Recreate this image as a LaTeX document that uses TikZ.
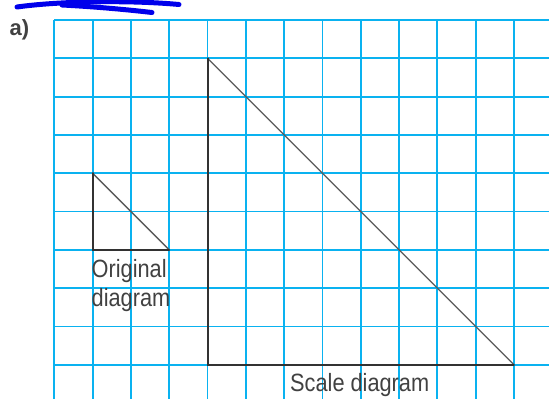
\documentclass[tikz,border=0pt]{standalone}
\usepackage{fontspec}
\setmainfont{Liberation Sans}
\newfontfamily\condfont[FakeStretch=0.87]{Liberation Sans}
\definecolor{gridblue}{RGB}{10,178,240}
\definecolor{inkgray}{RGB}{50,50,50}
\definecolor{textgray}{RGB}{65,65,65}
\definecolor{hypgray}{RGB}{90,90,90}
\definecolor{penblue}{RGB}{0,0,235}
\tikzset{
  gridline/.style={draw=gridblue, line width=1.8pt},
  legline/.style={draw=inkgray, line width=2pt, line cap=round, line join=miter},
  hypline/.style={draw=hypgray, line width=1.3pt, line cap=round},
  caption/.style={font=\condfont\fontsize{25}{29}\selectfont, text=textgray, inner sep=0pt, anchor=base west},
  pen/.style={draw=penblue, line width=5pt, line cap=round, line join=round}
}
\begin{document}
\begin{tikzpicture}[x=1pt,y=-1pt]
\useasboundingbox (0,0) rectangle (549,399);
\fill[white] (0,0) rectangle (549,399);
\clip (0,0) rectangle (549,399);
\def\gs{38.3}
\def\gx{54.3}
\def\gy{20}
% grid
\foreach \k in {0,...,12}{
  \draw[gridline] ({\gx+\k*\gs},\gy) -- ({\gx+\k*\gs},405);
}
\foreach \k in {0,...,9}{
  \draw[gridline] (\gx,{\gy+\k*\gs}) -- (560,{\gy+\k*\gs});
}
% small triangle (original)
\coordinate (sA) at ({\gx+1*\gs},{\gy+4*\gs});
\coordinate (sB) at ({\gx+1*\gs},{\gy+6*\gs});
\coordinate (sC) at ({\gx+3*\gs},{\gy+6*\gs});
\draw[hypline] (sA) -- (sC);
\draw[legline] (sA) -- (sB) -- (sC);
% big triangle (scale)
\coordinate (bA) at ({\gx+4*\gs},{\gy+1*\gs});
\coordinate (bB) at ({\gx+4*\gs},{\gy+9*\gs});
\coordinate (bC) at ({\gx+12*\gs},{\gy+9*\gs});
\draw[hypline] (bA) -- (bC);
\draw[legline] (bA) -- (bB) -- (bC);
% captions
\node[caption] (orig1) at (91.5,277) {Original};
\node[caption] (orig2) at (91.5,306) {diagram};
\node[caption] (scale) at (290,391.5) {Scale diagram};
% label
\node[font=\bfseries\fontsize{22}{26}\selectfont, text=textgray, inner sep=0pt] (lab) at (19.5,30) {a)};
% pen scribble
\draw[pen] (17,7) .. controls (60,1) and (130,0) .. (179,4.5);
\draw[pen] (62,5) .. controls (100,7) and (130,10) .. (152,12.5);
\end{tikzpicture}
\end{document}
